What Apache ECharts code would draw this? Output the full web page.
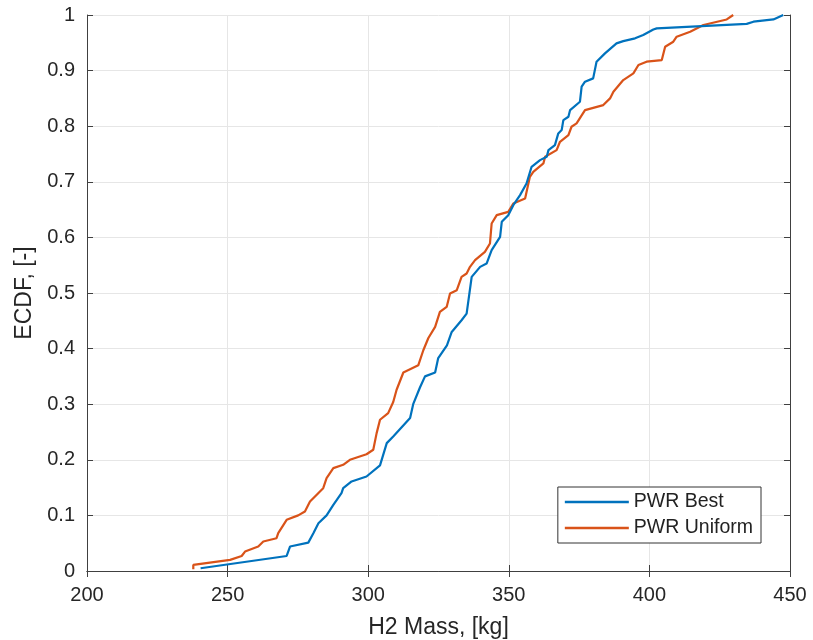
<!DOCTYPE html>
<html>
<head>
<meta charset="utf-8">
<script src="https://cdn.jsdelivr.net/npm/echarts@6/dist/echarts.min.js"></script>
<style>html,body{margin:0;padding:0;background:#fff}#c{width:813px;height:640px}</style>
</head>
<body>
<div id="c"></div>
<script>
const bestX = [240.4,271,272.2,278.7,280.5,282.3,285.2,287.6,290.5,291.1,294.1,299.4,304.2,306.6,308.9,314.9,316,318.4,320.2,323.8,324.9,328,329.7,333.2,335,336.8,339.8,342.1,343.9,346.9,347.5,349.8,351.6,354,356.3,358.1,361.1,363.5,364.1,366.4,367.6,368.8,369.4,371.2,371.8,375.3,375.9,377.1,380,381.2,384.2,388.3,390.7,394.9,397.8,401.4,402.6,434.6,437,444.1,447.6];
const bestY = [0.005,0.027,0.044,0.051,0.068,0.086,0.10,0.119,0.14,0.149,0.161,0.17,0.19,0.23,0.242,0.275,0.30,0.33,0.35,0.357,0.383,0.406,0.43,0.451,0.463,0.529,0.547,0.553,0.577,0.601,0.628,0.640,0.658,0.676,0.697,0.727,0.739,0.745,0.757,0.766,0.787,0.793,0.811,0.817,0.829,0.844,0.871,0.880,0.886,0.916,0.931,0.949,0.953,0.958,0.964,0.974,0.976,0.984,0.988,0.992,1.0];
const unifX = [237.8,237.8,250.9,255,256.2,260.9,262.7,267.4,268,271,275.1,277.5,279.3,284,285.2,287.6,291.1,293.5,299.4,301.8,303,304.2,307.1,308.9,310.1,312.5,317.8,319.6,321.4,323.8,325.5,327.9,329.1,331.5,333.2,335,336.2,338,341.5,343.3,343.9,345.7,349.8,351.6,355.8,357.5,358.7,362.3,362.9,367,368.2,371.2,372.3,374.1,377.1,383.6,386,387.2,390.7,394.3,396.1,399,404.4,405.6,408.5,409.7,414.5,419.2,427.5,429.8];
const unifY = [0.003,0.011,0.020,0.027,0.035,0.044,0.053,0.059,0.068,0.092,0.10,0.107,0.125,0.149,0.167,0.185,0.191,0.20,0.21,0.218,0.248,0.272,0.284,0.304,0.326,0.357,0.37,0.397,0.419,0.439,0.466,0.475,0.499,0.505,0.529,0.535,0.547,0.559,0.574,0.589,0.625,0.640,0.646,0.661,0.670,0.709,0.718,0.733,0.745,0.757,0.772,0.784,0.799,0.805,0.829,0.838,0.85,0.862,0.883,0.895,0.910,0.916,0.919,0.943,0.952,0.961,0.970,0.982,0.992,1.0];
const seriesNames = ['PWR Best','PWR Uniform'];
const xLabel = 'H2 Mass, [kg]';
const yLabel = 'ECDF, [-]';

const zip = (a,b) => a.map((v,i)=>[v,b[i]]);
const font = 'Liberation Sans, Arial, Helvetica, sans-serif';
const axisCol = '#404040';
const chart = echarts.init(document.getElementById('c'), null, {renderer:'canvas'});
const baseX = {
  type:'value', min:200, max:450, interval:50,
  axisLine:{show:true,lineStyle:{color:axisCol,width:1}},
  axisTick:{show:true,inside:true,length:6,lineStyle:{color:axisCol}},
  splitLine:{show:false}
};
const baseY = {
  type:'value', min:0, max:1, interval:0.1,
  axisLine:{show:true,lineStyle:{color:axisCol,width:1}},
  axisTick:{show:true,inside:true,length:6,lineStyle:{color:axisCol}},
  splitLine:{show:false}
};
chart.setOption({
  backgroundColor:'#fff',
  animation:false,
  textStyle:{fontFamily:font},
  grid:{left:87,right:23,top:15,bottom:69,containLabel:false,outerBoundsMode:'none'},
  legend:{
    data:seriesNames.map(n=>({name:n,icon:'rect'})), orient:'vertical', right:52, top:487,
    backgroundColor:'#fff', borderColor:'#333', borderWidth:1, borderRadius:0,
    padding:[5,8,5,7], itemGap:6, itemWidth:64, itemHeight:2.5,
    textStyle:{fontSize:19.5,color:'#222',fontFamily:font}
  },
  xAxis:[
    Object.assign({}, baseX, {
      position:'bottom',
      name:xLabel, nameLocation:'middle', nameGap:45,
      nameTextStyle:{fontSize:23,color:'#262626',fontFamily:font},
      axisLabel:{fontSize:20,color:'#262626',margin:14,fontFamily:font},
      splitLine:{show:true,lineStyle:{color:'#e6e6e6',width:1}}
    }),
    Object.assign({}, baseX, {position:'top', axisLabel:{show:false}})
  ],
  yAxis:[
    Object.assign({}, baseY, {
      position:'left',
      name:yLabel, nameLocation:'middle', nameGap:44,
      nameTextStyle:{fontSize:23,color:'#262626',fontFamily:font},
      axisLabel:{fontSize:20,color:'#262626',margin:12,fontFamily:font,
        formatter:v=>String(Math.round(v*10)/10)},
      splitLine:{show:true,lineStyle:{color:'#e6e6e6',width:1}}
    }),
    Object.assign({}, baseY, {position:'right', axisLabel:{show:false}})
  ],
  series:[
    {name:seriesNames[0], type:'line', data:zip(bestX,bestY), symbol:'none',
     lineStyle:{color:'#0072BD',width:2.2}, itemStyle:{color:'#0072BD'}, z:3},
    {name:seriesNames[1], type:'line', data:zip(unifX,unifY), symbol:'none',
     lineStyle:{color:'#D95319',width:2.2}, itemStyle:{color:'#D95319'}, z:2}
  ]
});
</script>
</body>
</html>
